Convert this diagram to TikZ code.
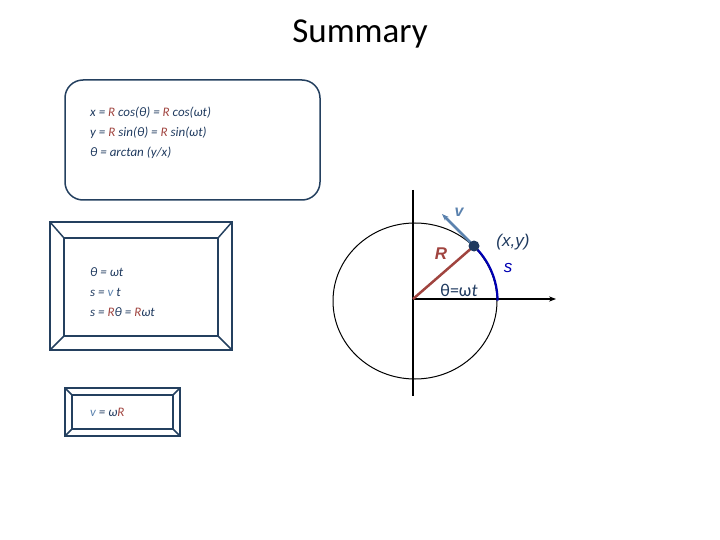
\documentclass[tikz,border=0pt]{standalone}
\usepackage{fontspec}
\setmainfont{Carlito}
\newfontfamily\arial{Liberation Sans}
\usetikzlibrary{arrows.meta}
\definecolor{navy}{HTML}{1F3A5F}
\definecolor{rb}{HTML}{A0443F}
\definecolor{vb}{HTML}{5B82AE}
\definecolor{dk}{HTML}{24405F}
\newcommand{\Rc}{\textcolor{rb}{R}}
\begin{document}
\begin{tikzpicture}[x=1pt,y=-1pt,
  eq/.style={anchor=west,font=\fontsize{13}{15}\selectfont\itshape,text=navy,inner sep=0},
  boxl/.style={draw=dk,line width=1.5pt}]
\useasboundingbox (0,0) rectangle (720,540);
\node (title) at (360,34) {\fontsize{35}{40}\selectfont Summary};
% rounded box
\draw[boxl,rounded corners=18pt] (65,80) rectangle (320,200);
\node[eq] (e1) at (90,113) {x = \Rc{} cos(θ) = \Rc{} cos(ωt)};
\node[eq] (e2) at (90,133) {y = \Rc{} sin(θ) = \Rc{} sin(ωt)};
\node[eq] (e3) at (90,153) {θ = arctan (y/x)};
% bevel box 2
\draw[boxl] (50,222) rectangle (232,350);
\draw[boxl] (64,238) rectangle (218,336);
\draw[boxl] (50,222)--(64,238) (232,222)--(218,238) (50,350)--(64,336) (232,350)--(218,336);
\node[eq] (f1) at (90,272) {θ = ωt};
\node[eq] (f2) at (90,292) {s = \textcolor{vb}{v} t};
\node[eq] (f3) at (90,312) {s = \Rc{}θ = \Rc{}ωt};
% bevel box 3
\draw[boxl] (65,388) rectangle (180,436);
\draw[boxl] (72,395) rectangle (173,429);
\draw[boxl] (65,388)--(72,395) (180,388)--(173,395) (65,436)--(72,429) (180,436)--(173,429);
\node[eq] (g1) at (90,412) {\textcolor{vb}{v} = ω\Rc};
% axes and circle
\coordinate (O) at (413,299);
\coordinate (top) at (413,190);
\coordinate (bot) at (413,396);
\coordinate (xend) at (556,299);
\draw[line width=1.2pt] (top)--(bot);
\draw[line width=1.2pt,-{Stealth[length=7pt]}] (O)--(xend);
\draw[line width=1pt] (415,301) ellipse [x radius=82, y radius=78];
\coordinate (P) at (474,246);
\draw[blue!70!black,line width=2.2pt] (P) arc [start angle=-44.5,end angle=0,x radius=82,y radius=78];
\draw[rb,line width=2.5pt] (O)--(P);
\draw[vb,line width=2.5pt,-{Stealth[length=7pt]}] (P)--(442,214);
\fill[navy] (P) circle (5.5);
\node[font=\arial\itshape\bfseries\fontsize{16}{18}\selectfont,text=vb] (v) at (459,212) {v};
\node[font=\arial\itshape\bfseries\fontsize{17}{18}\selectfont,text=rb] (R) at (441,254) {R};
\node[font=\arial\itshape\fontsize{17}{18}\selectfont,text=navy] (xy) at (513,242) {(x,y)};
\node[font=\arial\itshape\fontsize{17}{18}\selectfont,text=blue!70!black] (s) at (508,268) {s};
\node[font=\fontsize{18}{18}\selectfont,text=navy] (th) at (459,290) {θ=ω\textit{t}};
\end{tikzpicture}
\end{document}
